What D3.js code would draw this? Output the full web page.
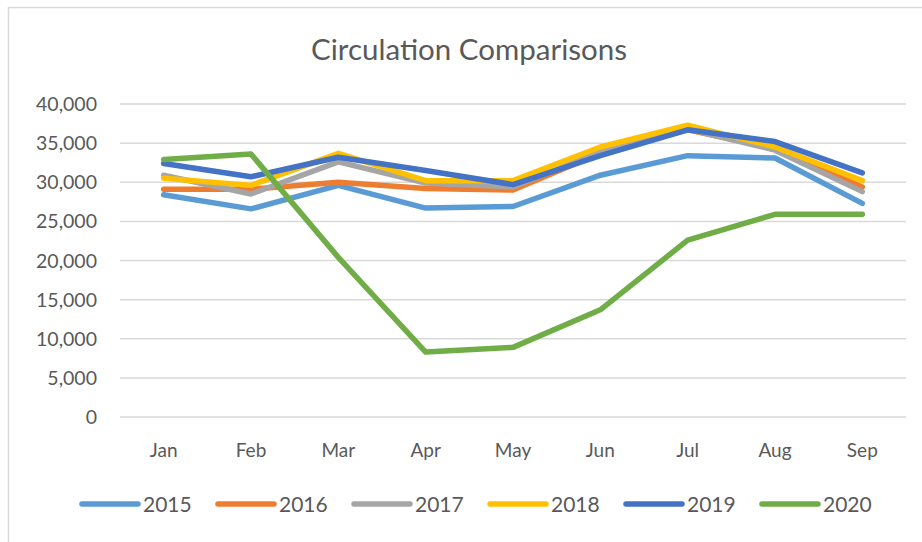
<!DOCTYPE html>
<html>
<head>
<meta charset="utf-8">
<script src="https://cdn.jsdelivr.net/npm/d3@7"></script>
<style>
  body { margin: 0; background: #fff; }
  text { font-family: Lato, "Open Sans", sans-serif; fill: #595959; }
</style>
</head>
<body>
<svg></svg>
<script>
// values
var months = ["Jan", "Feb", "Mar", "Apr", "May", "Jun", "Jul", "Aug", "Sep"];
var years = ["2015", "2016", "2017", "2018", "2019", "2020"];
var yTicks = [0, 5000, 10000, 15000, 20000, 25000, 30000, 35000, 40000];

var v2015 = [28400, 26600, 29600, 26700, 26900, 30900, 33400, 33100, 27300];
var v2016 = [29100, 29100, 30000, 29200, 29000, 33700, 36700, 34300, 29400];
var v2017 = [30900, 28500, 32600, 29900, 29400, 33900, 36800, 34100, 28800];
var v2018 = [30500, 29600, 33700, 30200, 30200, 34500, 37300, 34500, 30200];
var v2019 = [32400, 30700, 33200, 31500, 29700, 33400, 36700, 35200, 31200];
var v2020 = [32900, 33600, 20400, 8300, 8900, 13700, 22600, 25900, 25900];

var colors = ["#5b9bd5", "#ed7d31", "#a5a5a5", "#ffc000", "#4472c4", "#70ad47"];
var allValues = [v2015, v2016, v2017, v2018, v2019, v2020];

var width = 922;
var height = 542;

var svg = d3.select("svg")
    .attr("width", width)
    .attr("height", height);

// chart border
svg.append("rect")
    .attr("x", 8.5)
    .attr("y", 7.5)
    .attr("width", 940)
    .attr("height", 560)
    .attr("fill", "none")
    .attr("stroke", "#d9d9d9")
    .attr("stroke-width", 1.5);

svg.append("text")
    .attr("x", 469)
    .attr("y", 60)
    .attr("text-anchor", "middle")
    .style("font-size", "29.5px")
    .text("Circulation Comparisons");

var x = d3.scalePoint()
    .domain(months)
    .range([120, 906])
    .padding(0.5);

var y = d3.scaleLinear()
    .domain([0, 40000])
    .range([417, 104]);

// gridlines
svg.append("g")
    .selectAll("line")
    .data(yTicks)
    .enter()
    .append("line")
      .attr("x1", 120)
      .attr("x2", 906)
      .attr("y1", d => y(d))
      .attr("y2", d => y(d))
      .attr("stroke", "#d9d9d9")
      .attr("stroke-width", 1.5);

// y labels
svg.append("g")
    .selectAll("text")
    .data(yTicks)
    .enter()
    .append("text")
      .attr("x", 97)
      .attr("y", d => y(d))
      .attr("dy", "0.36em")
      .attr("text-anchor", "end")
      .style("font-size", "19.5px")
      .text(d => d3.format(",")(d));

// x labels
svg.append("g")
    .selectAll("text")
    .data(months)
    .enter()
    .append("text")
      .attr("x", d => x(d))
      .attr("y", 457)
      .attr("text-anchor", "middle")
      .style("font-size", "19px")
      .text(d => d);

var line = d3.line()
    .x((d, i) => x(months[i]))
    .y(d => y(d));

svg.append("g")
    .selectAll("path")
    .data(allValues)
    .enter()
    .append("path")
      .attr("d", line)
      .attr("fill", "none")
      .attr("stroke", (d, i) => colors[i])
      .attr("stroke-width", 5.5)
      .attr("stroke-linejoin", "round")
      .attr("stroke-linecap", "round");

// legend
var legend = svg.append("g")
    .selectAll("g")
    .data(years)
    .enter()
    .append("g")
      .attr("transform", (d, i) => "translate(" + (82 + i * 136) + ",504)");

legend.append("line")
    .attr("x1", 0)
    .attr("x2", 56)
    .attr("stroke", (d, i) => colors[i])
    .attr("stroke-width", 5.5)
    .attr("stroke-linecap", "round");

legend.append("text")
    .attr("x", 61)
    .attr("dy", "0.36em")
    .style("font-size", "21px")
    .text(d => d);
</script>
</body>
</html>
